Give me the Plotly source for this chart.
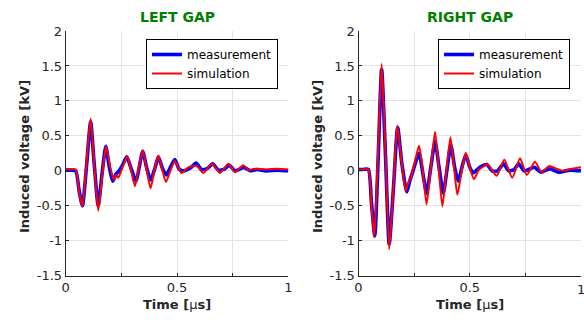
import plotly.graph_objects as go

# ---------------- data (time in microseconds, voltage in kV) ----------------
left_meas_t = [0, 0.02, 0.045, 0.06, 0.075, 0.093, 0.112, 0.128, 0.146, 0.163, 0.18, 0.196,
               0.211, 0.225, 0.24, 0.255, 0.274, 0.295, 0.316, 0.33, 0.346, 0.363, 0.381,
               0.4, 0.416, 0.435, 0.452, 0.47, 0.49, 0.51, 0.53, 0.56, 0.585, 0.61, 0.635,
               0.66, 0.685, 0.71, 0.735, 0.76, 0.8, 0.83, 0.86, 0.9, 0.95, 1.0]
left_meas_v = [0.01, 0.01, 0.0, -0.28, -0.5, 0.05, 0.7, 0.1, -0.5, -0.05, 0.35, 0.05,
               -0.15, -0.05, 0.0, 0.08, 0.2, 0.02, -0.15, 0.05, 0.28, 0.05, -0.13,
               0.03, 0.2, 0.03, -0.06, 0.05, 0.16, 0.02, 0.0, 0.04, 0.11, 0.02, 0.03,
               0.1, 0.01, 0.02, 0.08, 0.0, 0.05, 0.0, 0.02, 0.0, 0.01, 0.0]

left_sim_t = [0, 0.02, 0.045, 0.06, 0.075, 0.093, 0.112, 0.128, 0.146, 0.163, 0.181, 0.2,
              0.217, 0.228, 0.236, 0.255, 0.277, 0.294, 0.311, 0.328, 0.346, 0.363, 0.381,
              0.398, 0.416, 0.433, 0.45, 0.47, 0.49, 0.52, 0.55, 0.588, 0.618, 0.656,
              0.693, 0.73, 0.76, 0.797, 0.82, 0.85, 0.9, 0.95, 1.0]
left_sim_v = [0.02, 0.02, 0.02, -0.3, -0.51, 0.1, 0.75, 0.1, -0.57, -0.1, 0.35, 0.05,
              -0.13, -0.06, -0.1, 0.05, 0.21, 0.0, -0.22, 0.05, 0.29, 0.02, -0.25,
              0.0, 0.22, 0.02, -0.16, 0.0, 0.14, -0.03, 0.05, 0.07, -0.03, 0.1,
              -0.03, 0.1, -0.02, 0.08, 0.01, 0.03, 0.02, 0.03, 0.02]

right_meas_t = [0, 0.02, 0.044, 0.058, 0.073, 0.088, 0.104, 0.121, 0.138, 0.157, 0.176,
                0.195, 0.217, 0.23, 0.245, 0.272, 0.29, 0.306, 0.325, 0.344, 0.362, 0.381,
                0.397, 0.415, 0.432, 0.448, 0.465, 0.482, 0.5, 0.515, 0.545, 0.577, 0.6,
                0.625, 0.652, 0.675, 0.7, 0.72, 0.745, 0.79, 0.82, 0.86, 0.9, 0.95, 1.0]
right_meas_v = [0.02, 0.02, 0.02, -0.45, -0.93, 0.15, 1.45, 0.25, -1.05, -0.25, 0.62,
                0.1, -0.3, -0.15, 0.0, 0.25, -0.05, -0.32, 0.05, 0.42, 0.05, -0.32,
                0.0, 0.37, 0.05, -0.15, 0.05, 0.23, 0.05, -0.03, 0.05, 0.09, 0.0,
                0.0, 0.1, 0.0, 0.02, 0.1, 0.0, 0.05, -0.02, 0.03, -0.02, 0.01, 0.0]

right_sim_t = [0, 0.02, 0.044, 0.058, 0.071, 0.087, 0.104, 0.121, 0.138, 0.156, 0.174,
               0.193, 0.212, 0.222, 0.235, 0.255, 0.272, 0.289, 0.306, 0.325, 0.344, 0.36,
               0.377, 0.395, 0.413, 0.428, 0.444, 0.463, 0.482, 0.5, 0.519, 0.54, 0.579,
               0.621, 0.655, 0.691, 0.726, 0.756, 0.793, 0.823, 0.857, 0.89, 0.92, 0.96, 1.0]
right_sim_v = [0.02, 0.02, 0.02, -0.5, -0.95, 0.2, 1.53, 0.3, -1.12, -0.3, 0.65,
               0.15, -0.29, -0.18, -0.1, 0.15, 0.36, 0.0, -0.48, 0.05, 0.56, 0.05,
               -0.51, 0.0, 0.48, 0.1, -0.34, -0.02, 0.26, 0.05, -0.12, 0.01, 0.09,
               -0.07, 0.16, -0.1, 0.18, -0.06, 0.13, -0.02, 0.07, 0.03, 0.0, 0.03, 0.05]

x_tickvals = [0, 0.25, 0.5, 0.75, 1]
x_ticktext = ["0", "", "0.5", "", "1"]
y_tickvals = [-1.5, -1, -0.5, 0, 0.5, 1, 1.5, 2]
y_ticktext = ["-1.5", "-1", "-0.5", "0", "0.5", "1", "1.5", "2"]
titles = ["LEFT GAP", "RIGHT GAP"]
series_names = ["measurement", "simulation"]

# ---------------- figure ----------------
W, H = 584, 323
FONT = "DejaVu Sans"
TXT = "#262626"
BLUE = "#0000ff"
RED = "#ff0000"

fig = go.Figure()

panels = [
    (left_meas_t, left_meas_v, left_sim_t, left_sim_v, "x", "y", "legend"),
    (right_meas_t, right_meas_v, right_sim_t, right_sim_v, "x2", "y2", "legend2"),
]
for mt, mv, st, sv, xa, ya, lg in panels:
    fig.add_trace(go.Scatter(x=mt, y=mv, mode="lines", name=series_names[0],
                             line=dict(color=BLUE, width=3.6, shape="spline", smoothing=0.6),
                             xaxis=xa, yaxis=ya, legend=lg))
    fig.add_trace(go.Scatter(x=st, y=sv, mode="lines", name=series_names[1],
                             line=dict(color=RED, width=2, shape="spline", smoothing=0.6),
                             xaxis=xa, yaxis=ya, legend=lg))

# plot-area pixel positions
L1, R1 = 65.7, 288.4
L2, R2 = 358.5, 581.0
TOP, BOT = 31.0, 275.7

def xax(l, r, anchor):
    return dict(domain=[l / W, r / W], range=[0, 1], anchor=anchor, automargin=False,
                tickvals=x_tickvals, ticktext=x_ticktext,
                showgrid=True, gridcolor="#e3e3e3", gridwidth=1,
                showline=True, linecolor=TXT, linewidth=1,
                ticks="inside", ticklen=3, tickcolor=TXT,
                zeroline=False, tickfont=dict(family=FONT, size=13, color=TXT))

def yax(anchor):
    return dict(domain=[1 - BOT / H, 1 - TOP / H], range=[-1.5, 2], anchor=anchor,
                automargin=False,
                tickvals=y_tickvals, ticktext=y_ticktext,
                showgrid=True, gridcolor="#e3e3e3", gridwidth=1,
                showline=True, linecolor=TXT, linewidth=1,
                ticks="inside", ticklen=3, tickcolor=TXT,
                zeroline=False, tickfont=dict(family=FONT, size=13, color=TXT))

leg_common = dict(bgcolor="white", bordercolor="#000000", borderwidth=1,
                  font=dict(family=FONT, size=12, color="#000000"),
                  xanchor="right", yanchor="top", tracegroupgap=0,
                  itemwidth=30)

fig.update_layout(
    width=W, height=H,
    margin=dict(l=0, r=0, t=0, b=0, autoexpand=False),
    paper_bgcolor="white", plot_bgcolor="white",
    xaxis=xax(L1, R1, "y"), yaxis=yax("x"),
    xaxis2=xax(L2, R2, "y2"), yaxis2=yax("x2"),
    legend=dict(x=278 / W, y=1 - 39 / H, **leg_common),
    legend2=dict(x=570 / W, y=1 - 39 / H, **leg_common),
    showlegend=True,
)

annots = []
for (l, r), t in zip([(L1, R1), (L2, R2)], titles):
    cx = (l + r) / 2 / W
    annots.append(dict(x=cx, y=1 - 17 / H, xref="paper", yref="paper",
                       text="<b>" + t + "</b>", showarrow=False,
                       xanchor="center", yanchor="middle",
                       font=dict(family=FONT, size=14, color="#008000")))
    annots.append(dict(x=cx, y=1 - 304 / H, xref="paper", yref="paper",
                       text="<b>Time [</b>μ<b>s]</b>", showarrow=False,
                       xanchor="center", yanchor="middle",
                       font=dict(family=FONT, size=13, color=TXT)))
for x in [24, 317]:
    annots.append(dict(x=x / W, y=1 - 157 / H, xref="paper", yref="paper",
                       text="<b>Induced voltage [kV]</b>", showarrow=False,
                       textangle=-90, xanchor="center", yanchor="middle",
                       font=dict(family=FONT, size=13, color=TXT)))
# last x tick label of the right panel sits on the figure edge (cut, as in the reference)
annots.append(dict(x=1, y=-1.5, xref="x2", yref="y2", text=x_ticktext[-1],
                   showarrow=False, xanchor="center", yanchor="top", yshift=-4,
                   font=dict(family=FONT, size=13, color=TXT)))
fig.update_layout(annotations=annots)

fig.write_html("out.html",
               config={"displayModeBar": False},
               post_script="document.body.style.margin='0';document.body.style.overflow='hidden';")
